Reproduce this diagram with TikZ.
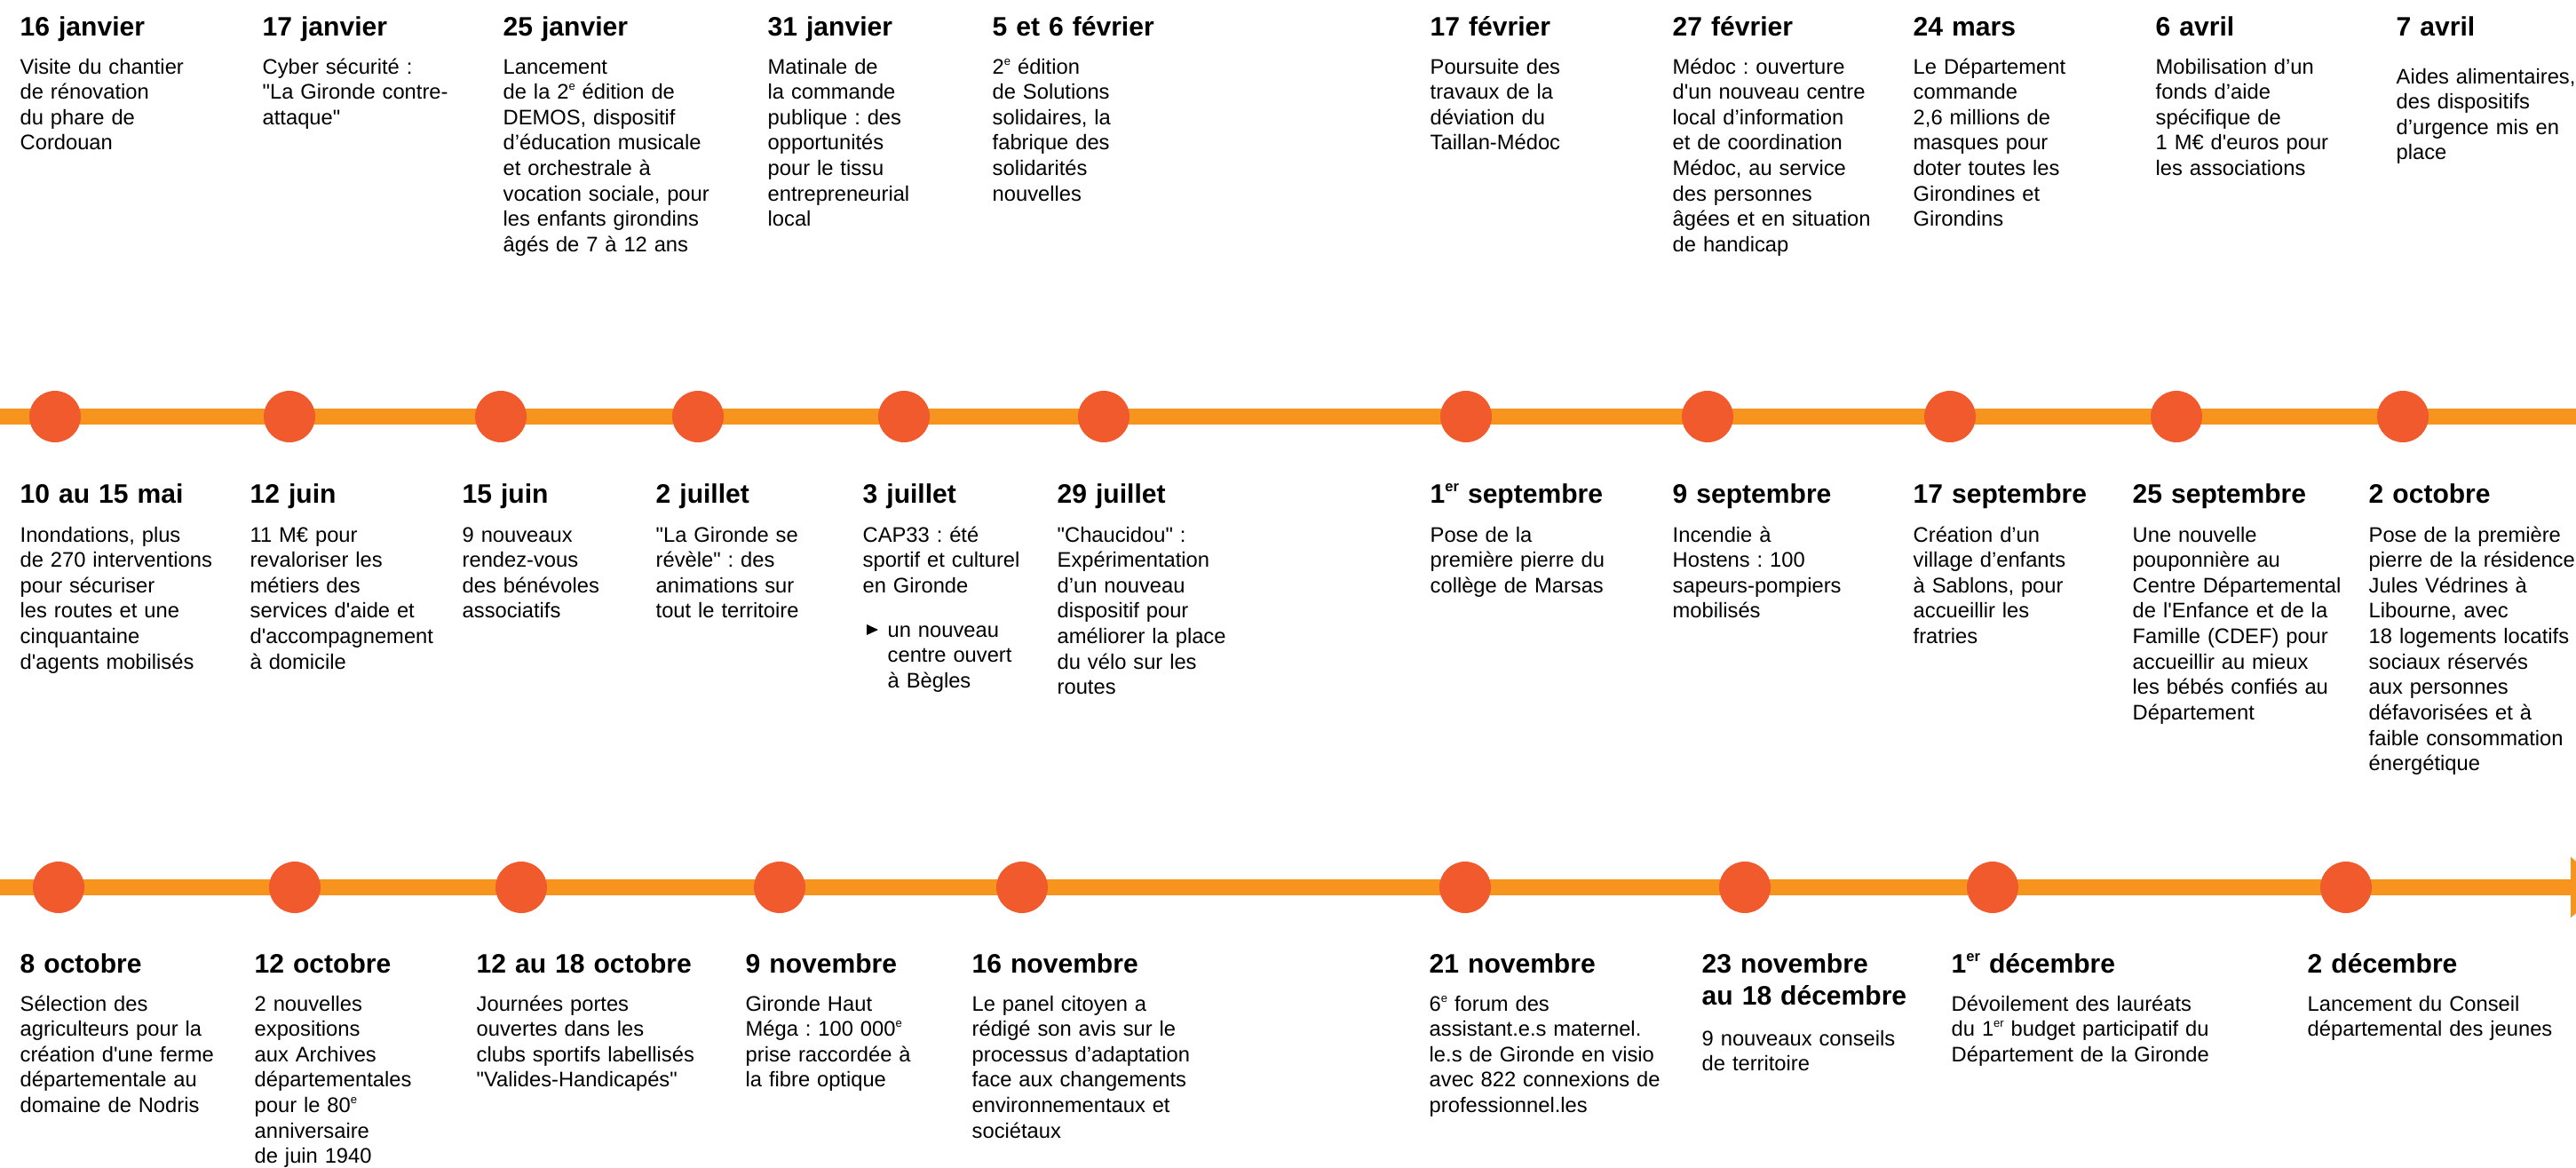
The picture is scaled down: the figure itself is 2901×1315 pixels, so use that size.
\documentclass[tikz,border=0pt]{standalone}
\usepackage{fontspec}
\setmainfont{Liberation Sans}
\usepackage{xcolor}
\usepackage{tikz}
\usetikzlibrary{arrows.meta}
\definecolor{lineorange}{HTML}{F7941D}
\definecolor{dotorange}{HTML}{F15A2C}
\newcommand{\aq}{\textquotesingle}
\newcommand{\dq}{\textquotedbl}
\newcommand{\sups}[1]{\raisebox{0.42em}{\scalebox{0.55}{#1}}}
\frenchspacing

\begin{document}
\begin{tikzpicture}[x=0.1mm, y=-0.1mm,
  datenode/.style={anchor=base west, inner sep=0, text width=6cm, align=left, font=\fontsize{8.55}{10.5}\selectfont\bfseries},
  textnode/.style={anchor=base west, inner sep=0, text width=6cm, align=left, font=\fontsize{6.75}{8.15}\selectfont},
  evdot/.style={circle, fill=dotorange, minimum size=5.8mm, inner sep=0},
  tline/.style={draw=lineorange, line width=1.8mm}]
\useasboundingbox (0,0) rectangle (2901,1315);
\clip (0,0) rectangle (2901,1315);

\node[datenode] (t01) at (22,41) {16 janvier};
\node[textnode] (b01) at (22,83) {Visite du chantier\\de rénovation\\du phare de\\Cordouan};
\node[datenode] (t02) at (295,41) {17 janvier};
\node[textnode] (b02) at (295,83) {Cyber sécurité :\\\dq La Gironde contre-\\attaque\dq};
\node[datenode] (t03) at (566,41) {25 janvier};
\node[textnode] (b03) at (566,83) {Lancement\\de la 2\sups{e} édition de\\DEMOS, dispositif\\d’éducation musicale\\et orchestrale à\\vocation sociale, pour\\les enfants girondins\\âgés de 7 à 12 ans};
\node[datenode] (t04) at (864,41) {31 janvier};
\node[textnode] (b04) at (864,83) {Matinale de\\la commande\\publique : des\\opportunités\\pour le tissu\\entrepreneurial\\local};
\node[datenode] (t05) at (1117,41) {5 et 6 février};
\node[textnode] (b05) at (1117,83) {2\sups{e} édition\\de Solutions\\solidaires, la\\fabrique des\\solidarités\\nouvelles};
\node[datenode] (t06) at (1610,41) {17 février};
\node[textnode] (b06) at (1610,83) {Poursuite des\\travaux de la\\déviation du\\Taillan-Médoc};
\node[datenode] (t07) at (1883,41) {27 février};
\node[textnode] (b07) at (1883,83) {Médoc : ouverture\\d\aq un nouveau centre\\local d’information\\et de coordination\\Médoc, au service\\des personnes\\âgées et en situation\\de handicap};
\node[datenode] (t08) at (2154,41) {24 mars};
\node[textnode] (b08) at (2154,83) {Le Département\\commande\\2,6 millions de\\masques pour\\doter toutes les\\Girondines et\\Girondins};
\node[datenode] (t09) at (2427,41) {6 avril};
\node[textnode] (b09) at (2427,83) {Mobilisation d’un\\fonds d’aide\\spécifique de\\1 M€ d\aq euros pour\\les associations};
\node[datenode] (t10) at (2698,41) {7 avril};
\node[textnode] (b10) at (2698,94) {Aides alimentaires,\\des dispositifs\\d’urgence mis en\\place};

\coordinate (r1w) at (0,469);
\coordinate (r1e) at (2901,469);
\draw[tline] (r1w) -- (r1e);
\node[evdot] (p11) at (62,469) {};
\node[evdot] (p12) at (326,469) {};
\node[evdot] (p13) at (564,469) {};
\node[evdot] (p14) at (786,469) {};
\node[evdot] (p15) at (1018,469) {};
\node[evdot] (p16) at (1243,469) {};
\node[evdot] (p17) at (1651,469) {};
\node[evdot] (p18) at (1923,469) {};
\node[evdot] (p19) at (2196,469) {};
\node[evdot] (p110) at (2451,469) {};
\node[evdot] (p111) at (2706,469) {};

\node[datenode] (t11) at (22,566) {10 au 15 mai};
\node[textnode] (b11) at (22,610) {Inondations, plus\\de 270 interventions\\pour sécuriser\\les routes et une\\cinquantaine\\d\aq agents mobilisés};
\node[datenode] (t12) at (281,566) {12 juin};
\node[textnode] (b12) at (281,610) {11 M€ pour\\revaloriser les\\métiers des\\services d\aq aide et\\d\aq accompagnement\\à domicile};
\node[datenode] (t13) at (520,566) {15 juin};
\node[textnode] (b13) at (520,610) {9 nouveaux\\rendez-vous\\des bénévoles\\associatifs};
\node[datenode] (t14) at (738,566) {2 juillet};
\node[textnode] (b14) at (738,610) {\dq La Gironde se\\révèle\dq\ : des\\animations sur\\tout le territoire};
\node[datenode] (t15) at (971,566) {3 juillet};
\node[textnode] (b15) at (971,610) {CAP33 : été\\sportif et culturel\\en Gironde};
\fill (976,703) -- (989,709) -- (976,715) -- cycle;
\node[textnode] (c15) at (999,717) {un nouveau\\centre ouvert\\à Bègles};
\node[datenode] (t16) at (1190,566) {29 juillet};
\node[textnode] (b16) at (1190,610) {\dq Chaucidou\dq\ :\\Expérimentation\\d’un nouveau\\dispositif pour\\améliorer la place\\du vélo sur les\\routes};
\node[datenode] (t17) at (1610,566) {1\sups{er} septembre};
\node[textnode] (b17) at (1610,610) {Pose de la\\première pierre du\\collège de Marsas};
\node[datenode] (t18) at (1883,566) {9 septembre};
\node[textnode] (b18) at (1883,610) {Incendie à\\Hostens : 100\\sapeurs-pompiers\\mobilisés};
\node[datenode] (t19) at (2154,566) {17 septembre};
\node[textnode] (b19) at (2154,610) {Création d’un\\village d’enfants\\à Sablons, pour\\accueillir les\\fratries};
\node[datenode] (t20) at (2401,566) {25 septembre};
\node[textnode] (b20) at (2401,610) {Une nouvelle\\pouponnière au\\Centre Départemental\\de l\aq Enfance et de la\\Famille (CDEF) pour\\accueillir au mieux\\les bébés confiés au\\Département};
\node[datenode] (t21) at (2667,566) {2 octobre};
\node[textnode] (b21) at (2667,610) {Pose de la première\\pierre de la résidence\\Jules Védrines à\\Libourne, avec\\18 logements locatifs\\sociaux réservés\\aux personnes\\défavorisées et à\\faible consommation\\énergétique};

\coordinate (r2w) at (0,999);
\coordinate (r2e) at (2935,999);
\draw[tline, -{Triangle[width=6.6mm, length=4mm]}] (r2w) -- (r2e);
\node[evdot] (p21) at (66,999) {};
\node[evdot] (p22) at (332,999) {};
\node[evdot] (p23) at (587,999) {};
\node[evdot] (p24) at (878,999) {};
\node[evdot] (p25) at (1151,999) {};
\node[evdot] (p26) at (1650,999) {};
\node[evdot] (p27) at (1965,999) {};
\node[evdot] (p28) at (2244,999) {};
\node[evdot] (p29) at (2642,999) {};

\node[datenode] (t22) at (22,1095) {8 octobre};
\node[textnode] (b22) at (22,1138) {Sélection des\\agriculteurs pour la\\création d\aq une ferme\\départementale au\\domaine de Nodris};
\node[datenode] (t23) at (286,1095) {12 octobre};
\node[textnode] (b23) at (286,1138) {2 nouvelles\\expositions\\aux Archives\\départementales\\pour le 80\sups{e}\\anniversaire\\de juin 1940};
\node[datenode] (t24) at (536,1095) {12 au 18 octobre};
\node[textnode] (b24) at (536,1138) {Journées portes\\ouvertes dans les\\clubs sportifs labellisés\\\dq Valides-Handicapés\dq};
\node[datenode] (t25) at (839,1095) {9 novembre};
\node[textnode] (b25) at (839,1138) {Gironde Haut\\Méga : 100 000\sups{e}\\prise raccordée à\\la fibre optique};
\node[datenode] (t26) at (1094,1095) {16 novembre};
\node[textnode] (b26) at (1094,1138) {Le panel citoyen a\\rédigé son avis sur le\\processus d’adaptation\\face aux changements\\environnementaux et\\sociétaux};
\node[datenode] (t27) at (1609,1095) {21 novembre};
\node[textnode] (b27) at (1609,1138) {6\sups{e} forum des\\assistant.e.s maternel.\\le.s de Gironde en visio\\avec 822 connexions de\\professionnel.les};
\node[datenode] (t28) at (1916,1095) {23 novembre\\au 18 décembre};
\node[textnode] (b28) at (1916,1177) {9 nouveaux conseils\\de territoire};
\node[datenode] (t29) at (2197,1095) {1\sups{er} décembre};
\node[textnode] (b29) at (2197,1138) {Dévoilement des lauréats\\du 1\sups{er} budget participatif du\\Département de la Gironde};
\node[datenode] (t30) at (2598,1095) {2 décembre};
\node[textnode] (b30) at (2598,1138) {Lancement du Conseil\\départemental des jeunes};
\end{tikzpicture}
\end{document}
